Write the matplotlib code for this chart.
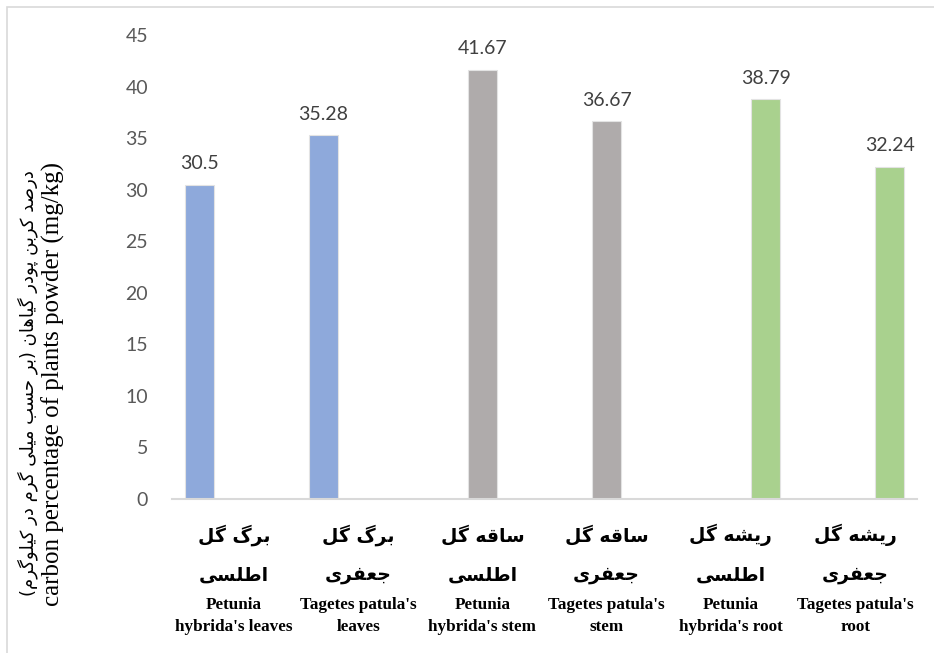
import numpy as np
import matplotlib
matplotlib.use('Agg')
import matplotlib.pyplot as plt
from matplotlib.patches import Rectangle

# data
values = [30.5, 35.28, 41.67, 36.67, 38.79, 32.24]
series_of_bar = [0, 0, 1, 1, 2, 2]   # leaves, stem, root
colors = ['#8EA9DB', '#AFABAB', '#A9D18E']
labels_fa_1 = ['برگ گل', 'برگ گل', 'ساقه گل', 'ساقه گل', 'ریشه گل', 'ریشه گل']
labels_fa_2 = ['اطلسی', 'جعفری', 'اطلسی', 'جعفری', 'اطلسی', 'جعفری']
labels_en = ["Petunia\nhybrida's leaves", "Tagetes patula's\nleaves",
             "Petunia\nhybrida's stem", "Tagetes patula's\nstem",
             "Petunia\nhybrida's root", "Tagetes patula's\nroot"]
ylabel_fa = 'درصد کربن پودر گیاهان (بر حسب میلی گرم در کیلوگرم)'
ylabel_en = 'carbon percentage of plants powder (mg/kg)'
yticks = [0, 5, 10, 15, 20, 25, 30, 35, 40, 45]

# simple persian shaping (matplotlib has no bidi / joining)
FORMS = {
    'ا': ('\uFE8D', '\uFE8E'), 'د': ('\uFEA9', '\uFEAA'), 'ر': ('\uFEAD', '\uFEAE'),
    'ز': ('\uFEAF', '\uFEB0'), 'و': ('\uFEED', '\uFEEE'),
    'ب': ('\uFE8F', '\uFE90', '\uFE91', '\uFE92'), 'پ': ('\uFB56', '\uFB57', '\uFB58', '\uFB59'),
    'ت': ('\uFE95', '\uFE96', '\uFE97', '\uFE98'), 'ج': ('\uFE9D', '\uFE9E', '\uFE9F', '\uFEA0'),
    'ح': ('\uFEA1', '\uFEA2', '\uFEA3', '\uFEA4'), 'س': ('\uFEB1', '\uFEB2', '\uFEB3', '\uFEB4'),
    'ش': ('\uFEB5', '\uFEB6', '\uFEB7', '\uFEB8'), 'ص': ('\uFEB9', '\uFEBA', '\uFEBB', '\uFEBC'),
    'ط': ('\uFEC1', '\uFEC2', '\uFEC3', '\uFEC4'), 'ع': ('\uFEC9', '\uFECA', '\uFECB', '\uFECC'),
    'ف': ('\uFED1', '\uFED2', '\uFED3', '\uFED4'), 'ق': ('\uFED5', '\uFED6', '\uFED7', '\uFED8'),
    'ک': ('\uFB8E', '\uFB8F', '\uFB90', '\uFB91'), 'گ': ('\uFB92', '\uFB93', '\uFB94', '\uFB95'),
    'ل': ('\uFEDD', '\uFEDE', '\uFEDF', '\uFEE0'), 'م': ('\uFEE1', '\uFEE2', '\uFEE3', '\uFEE4'),
    'ن': ('\uFEE5', '\uFEE6', '\uFEE7', '\uFEE8'), 'ه': ('\uFEE9', '\uFEEA', '\uFEEB', '\uFEEC'),
    'ی': ('\uFBFC', '\uFBFD', '\uFBFE', '\uFBFF'),
}

def fa(text):
    out = []
    for i, c in enumerate(text):
        if c not in FORMS:
            out.append(c)
            continue
        prev = text[i - 1] if i > 0 else ''
        nxt = text[i + 1] if i + 1 < len(text) else ''
        jp = prev in FORMS and len(FORMS[prev]) == 4
        jn = len(FORMS[c]) == 4 and nxt in FORMS
        f = FORMS[c]
        if jp and jn:
            out.append(f[3])
        elif jp:
            out.append(f[1])
        elif jn:
            out.append(f[2])
        else:
            out.append(f[0])
    s = ''.join(out)[::-1]
    return s.translate(str.maketrans('()', ')('))

fig = plt.figure(figsize=(9.34, 6.53), dpi=100)
fig.patches.append(Rectangle((0.0075, -0.1), 1.2, 1.089, transform=fig.transFigure,
                             fill=False, edgecolor='#D9D9D9', linewidth=1.2))
ax = fig.add_axes([0.184, 0.236, 0.798, 0.71])

n = len(values)
x = np.arange(n)
width = 0.235
offsets = [-0.28, 0.0, 0.28]
for i in range(n):
    s = series_of_bar[i]
    xp = x[i] + offsets[s]
    ax.bar(xp, values[i], width=width, color=colors[s], edgecolor='#E3E3E3', linewidth=0.8)
    ax.annotate(f'{values[i]:g}', (xp, values[i]), xytext=(0, 9), textcoords='offset points',
                ha='center', va='bottom', fontsize=14, color='#404040', family='Lato')

ax.set_xlim(-0.5, n - 0.5)
ax.set_ylim(0, 45)
ax.set_yticks(yticks)
ax.set_yticklabels([str(t) for t in yticks], fontsize=14, color='#595959', family='Lato')
ax.tick_params(axis='y', length=0, pad=17)
ax.set_xticks([])
for sp in ['top', 'right', 'left']:
    ax.spines[sp].set_visible(False)
ax.spines['bottom'].set_color('#D9D9D9')
ax.spines['bottom'].set_linewidth(1.5)

# category labels
for i in range(n):
    xd = ax.transData.transform((x[i], 0))[0] / fig.dpi / 9.34
    fig.text(xd, 1 - 535 / 653, fa(labels_fa_1[i]), ha='center', va='center', fontsize=13.5,
             fontweight='bold', family=['DejaVu Sans'])
    fig.text(xd, 1 - 575 / 653, fa(labels_fa_2[i]), ha='center', va='center', fontsize=13.5,
             fontweight='bold', family=['DejaVu Sans'])
    fig.text(xd, 1 - 616 / 653, labels_en[i], ha='center', va='center', fontsize=12.3,
             fontweight='bold', family='Liberation Serif', linespacing=1.55)

fig.text(28 / 934, 1 - 383 / 653, fa(ylabel_fa), rotation=90, ha='center', va='center',
         fontsize=13, family=['DejaVu Sans'])
fig.text(53 / 934, 1 - 384 / 653, ylabel_en, rotation=90, ha='center', va='center',
         fontsize=18, family='Liberation Serif')

fig.savefig('out.png', dpi=100)
